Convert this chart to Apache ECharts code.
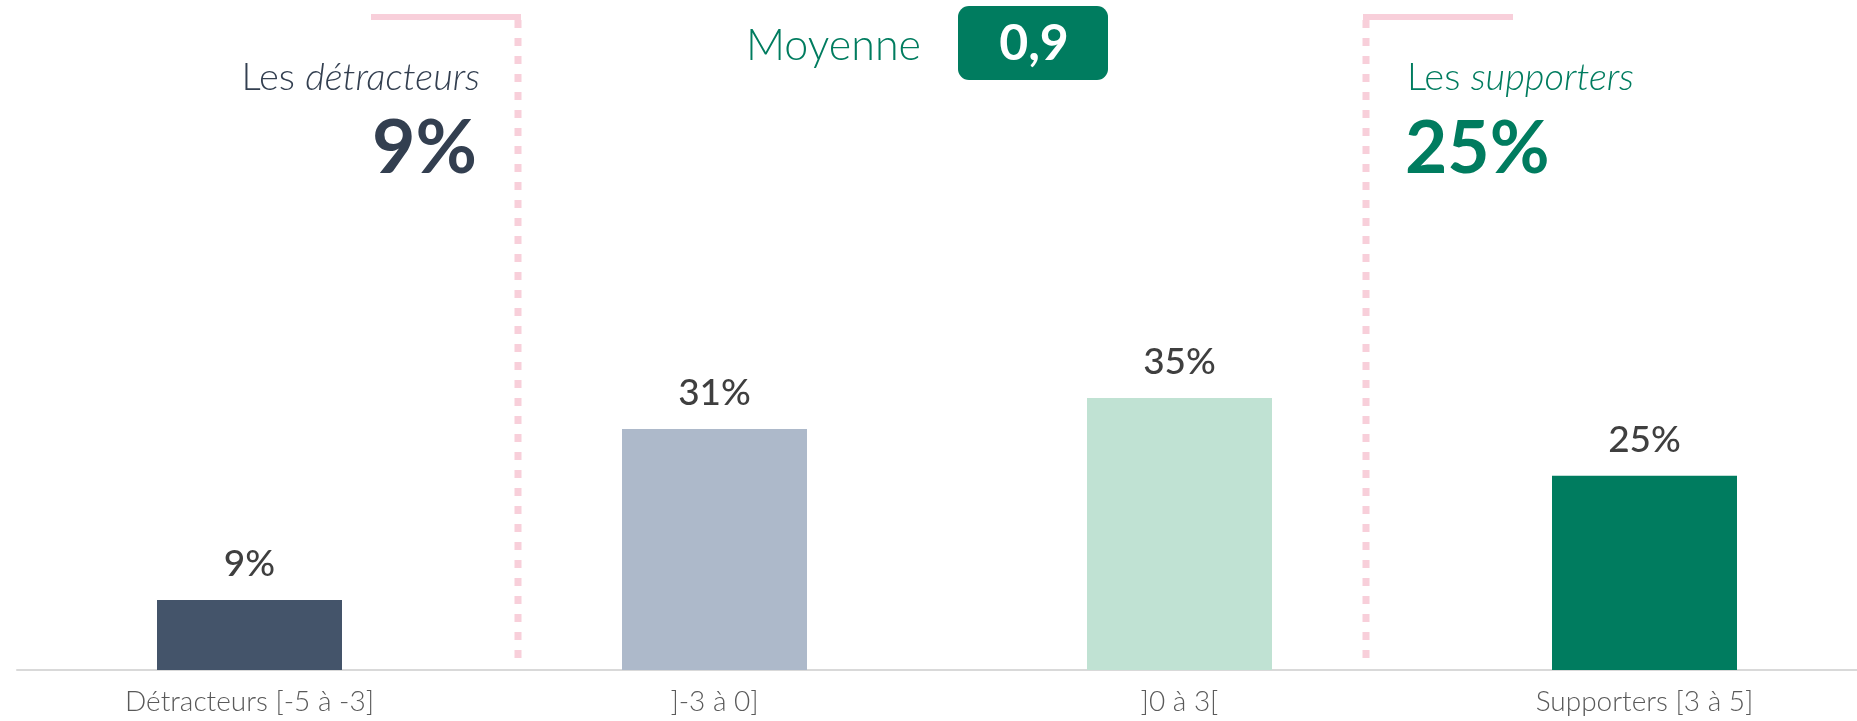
<!DOCTYPE html>
<html>
<head>
<meta charset="utf-8">
<script src="https://cdn.jsdelivr.net/npm/echarts@6/dist/echarts.min.js"></script>
<style>
  html, body { margin: 0; padding: 0; background: #fff; }
  #npsChart { width: 1857px; height: 721px; }
</style>
</head>
<body>
<div id="npsChart"></div>
<script>
// données
const categories = ['Détracteurs [-5 à -3]', ']-3 à 0]', ']0 à 3[', 'Supporters [3 à 5]'];
const values = [9, 31, 35, 25];
const barColors = ['#44546A', '#ADB9CA', '#C0E2D3', '#007C5F'];
const moyenne = '0,9';

const FONT = 'Lato';
const PINK = '#F8CFDA';
const GREEN = '#007C5F';
const NAVY = '#333F50';

let myChart = echarts.init(document.getElementById('npsChart'));

var option = {
  animation: false,
  grid: { left: 17, right: -20, top: 48, bottom: 51, outerBoundsMode: 'none' },
  xAxis: {
    type: 'category',
    data: categories,
    axisTick: { show: false },
    axisLine: { lineStyle: { color: '#D9D9D9', width: 2 } },
    axisLabel: {
      color: '#595959',
      fontFamily: FONT,
      fontWeight: 300,
      fontSize: 28,
      margin: 18
    }
  },
  yAxis: { type: 'value', min: 0, max: 80, show: false },
  series: [
    {
      type: 'bar',
      barWidth: 185,
      data: values.map((v, i) => ({ value: v, itemStyle: { color: barColors[i] } })),
      label: {
        show: true,
        position: 'top',
        distance: 17,
        formatter: '{c}%',
        color: '#3F3F3F',
        fontFamily: FONT,
        fontSize: 37,
        fontWeight: 500
      }
    }
  ],
  graphic: [
    // séparateurs roses
    { type: 'line', shape: { x1: 371, y1: 17, x2: 521, y2: 17 }, style: { stroke: PINK, lineWidth: 6 } },
    { type: 'line', shape: { x1: 518, y1: 20, x2: 518, y2: 668 }, style: { stroke: PINK, lineWidth: 7, lineDash: [8, 10] } },
    { type: 'line', shape: { x1: 1363, y1: 17, x2: 1513, y2: 17 }, style: { stroke: PINK, lineWidth: 6 } },
    { type: 'line', shape: { x1: 1366, y1: 20, x2: 1366, y2: 668 }, style: { stroke: PINK, lineWidth: 7, lineDash: [8, 10] } },
    // détracteurs
    {
      type: 'text', x: 480, y: 97,
      style: {
        text: '{a|Les }{b|détracteurs}', align: 'right', verticalAlign: 'bottom',
        rich: {
          a: { fontFamily: FONT, fontWeight: 300, fontSize: 38, fill: NAVY },
          b: { fontFamily: FONT, fontWeight: 300, fontStyle: 'italic', fontSize: 38, fill: NAVY }
        }
      }
    },
    {
      type: 'text', x: 477, y: 149,
      style: { text: values[0] + '%', align: 'right', verticalAlign: 'middle', fontFamily: FONT, fontWeight: 'bold', fontSize: 75, fill: NAVY }
    },
    // supporters
    {
      type: 'text', x: 1407, y: 97,
      style: {
        text: '{a|Les }{b|supporters}', align: 'left', verticalAlign: 'bottom',
        rich: {
          a: { fontFamily: FONT, fontWeight: 300, fontSize: 38, fill: GREEN },
          b: { fontFamily: FONT, fontWeight: 300, fontStyle: 'italic', fontSize: 38, fill: GREEN }
        }
      }
    },
    {
      type: 'text', x: 1405, y: 149,
      style: { text: values[3] + '%', align: 'left', verticalAlign: 'middle', fontFamily: FONT, fontWeight: 'bold', fontSize: 73, fill: GREEN }
    },
    // moyenne
    {
      type: 'text', x: 921, y: 46,
      style: { text: 'Moyenne', align: 'right', verticalAlign: 'middle', fontFamily: FONT, fontWeight: 300, fontSize: 43, fill: GREEN }
    },
    { type: 'rect', shape: { x: 958, y: 6, width: 150, height: 74, r: 11 }, style: { fill: GREEN } },
    {
      type: 'text', x: 1034, y: 44,
      style: { text: moyenne, align: 'center', verticalAlign: 'middle', fontFamily: FONT, fontWeight: 'bold', fontSize: 50, fill: '#fff' }
    }
  ]
};

window.onresize = myChart.resize;
myChart.setOption(option);
</script>
</body>
</html>
